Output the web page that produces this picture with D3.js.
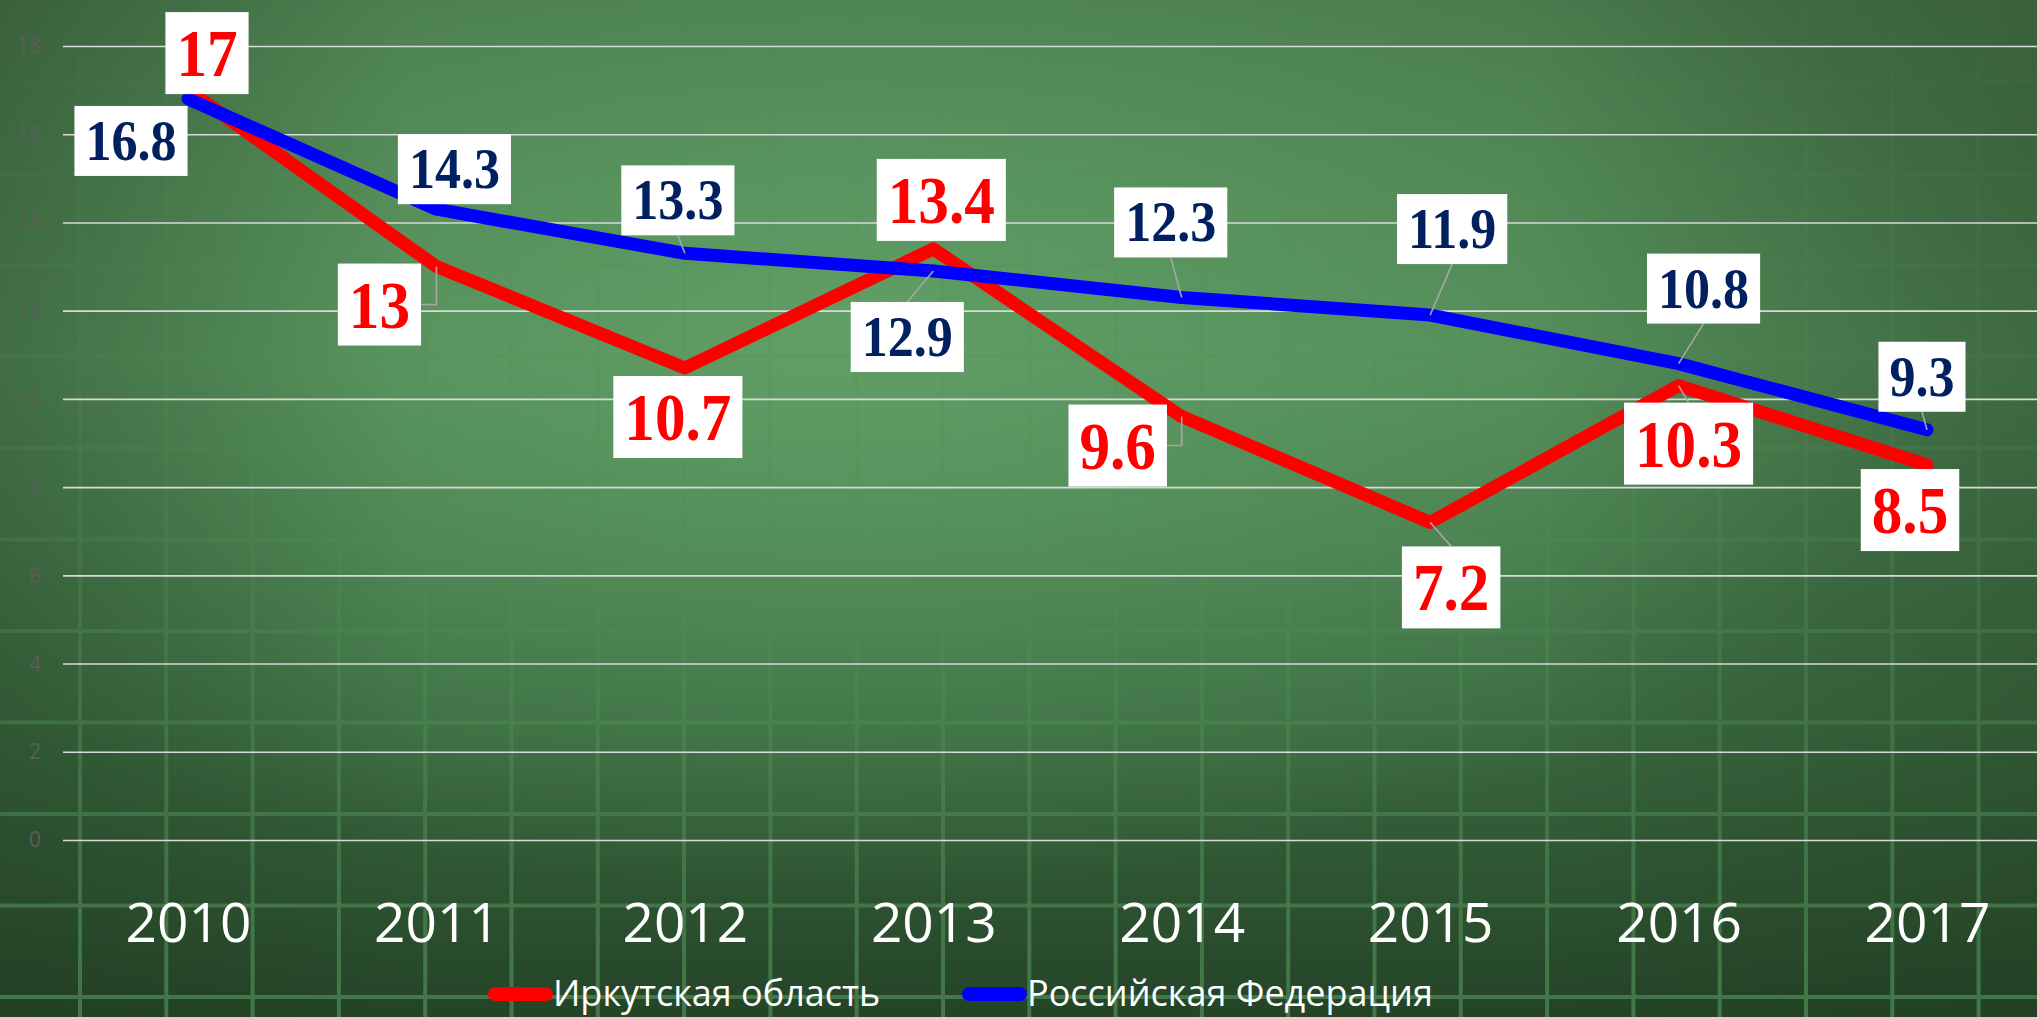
<!DOCTYPE html>
<html>
<head>
<meta charset="utf-8">
<script src="https://cdn.jsdelivr.net/npm/d3@7"></script>
<style>
  html, body { margin: 0; padding: 0; background: #3c6a41; }
  svg { display: block; }
</style>
</head>
<body>
<svg id="svg" width="2037" height="1017"></svg>
<script>
const years = ['2010', '2011', '2012', '2013', '2014', '2015', '2016', '2017'];
const irkutsk = [17, 13, 10.7, 13.4, 9.6, 7.2, 10.3, 8.5];
const russia = [16.8, 14.3, 13.3, 12.9, 12.3, 11.9, 10.8, 9.3];
const yTicks = [0, 2, 4, 6, 8, 10, 12, 14, 16, 18];
const seriesNames = ['Иркутская область', 'Российская Федерация'];

// label offsets from the point (label centre), hand placed like in the original
const irkutskLabelShift = [[19, -37], [-57, 38], [-7, 49], [8, -49], [-64, 29], [21, 65], [10, 58], [-17, 45]];
const russiaLabelShift = [[-57, 42], [18, -40], [-7, -53], [-26, 66], [-11, -75], [22, -86], [25, -75], [-5, -53]];

const width = 2037, height = 1017;
const svg = d3.select('#svg');
const defs = svg.append('defs');

// chalkboard background
const bg = defs.append('linearGradient').attr('id', 'bg').attr('x1', 0).attr('y1', 0).attr('x2', 0).attr('y2', 1);
bg.append('stop').attr('offset', '0%').attr('stop-color', '#467549');
bg.append('stop').attr('offset', '35%').attr('stop-color', '#4f8554');
bg.append('stop').attr('offset', '70%').attr('stop-color', '#3a6a40');
bg.append('stop').attr('offset', '100%').attr('stop-color', '#244327');

const glow = defs.append('radialGradient').attr('id', 'glow')
    .attr('cx', 0.42).attr('cy', 0.33).attr('r', 0.55);
glow.append('stop').attr('offset', '0%').attr('stop-color', '#66a86c').attr('stop-opacity', 0.75);
glow.append('stop').attr('offset', '100%').attr('stop-color', '#66a86c').attr('stop-opacity', 0);

const side = defs.append('linearGradient').attr('id', 'side').attr('x1', 0).attr('y1', 0).attr('x2', 1).attr('y2', 0);
side.append('stop').attr('offset', '0%').attr('stop-color', '#20391f').attr('stop-opacity', 0.35);
side.append('stop').attr('offset', '20%').attr('stop-color', '#20391f').attr('stop-opacity', 0);
side.append('stop').attr('offset', '75%').attr('stop-color', '#20391f').attr('stop-opacity', 0);
side.append('stop').attr('offset', '100%').attr('stop-color', '#20391f').attr('stop-opacity', 0.35);

const fade = defs.append('linearGradient').attr('id', 'fade').attr('x1', 0).attr('y1', 0).attr('x2', 0).attr('y2', 1);
fade.append('stop').attr('offset', '0%').attr('stop-color', '#fff').attr('stop-opacity', 0.05);
fade.append('stop').attr('offset', '45%').attr('stop-color', '#fff').attr('stop-opacity', 0.25);
fade.append('stop').attr('offset', '100%').attr('stop-color', '#fff').attr('stop-opacity', 0.85);
defs.append('mask').attr('id', 'gridMask')
    .append('rect').attr('width', width).attr('height', height).attr('fill', 'url(#fade)');

svg.append('rect').attr('width', width).attr('height', height).attr('fill', 'url(#bg)');
svg.append('rect').attr('width', width).attr('height', height).attr('fill', 'url(#glow)');
svg.append('rect').attr('width', width).attr('height', height).attr('fill', 'url(#side)');

const board = svg.append('g').attr('mask', 'url(#gridMask)')
    .attr('stroke', '#4f8d55').attr('stroke-width', 4).attr('opacity', 0.85);
board.selectAll('.bv').data(d3.range(80, width, 86.3)).enter().append('line')
    .attr('x1', d => d).attr('x2', d => d).attr('y1', 0).attr('y2', height);
board.selectAll('.bh').data(d3.range(997, 0, -91.5)).enter().append('line')
    .attr('x1', 0).attr('x2', width).attr('y1', d => d).attr('y2', d => d);

// scales
const x = d3.scalePoint().domain(years).range([188, 1927]);
const y = d3.scaleLinear().domain([0, 18]).range([840, 46]);

// horizontal gridlines + y axis
const yAxis = svg.append('g').attr('transform', 'translate(63,0)')
    .call(d3.axisLeft(y).tickValues(yTicks).tickSize(-(width - 63)).tickPadding(22));
yAxis.select('.domain').remove();
yAxis.selectAll('.tick line').attr('stroke', '#d9d9d9').attr('stroke-width', 1.6);
yAxis.selectAll('.tick text').attr('fill', '#5c5d5c').attr('font-size', 21)
    .attr('font-family', 'Open Sans, sans-serif');

// x axis labels
const xAxis = svg.append('g').attr('transform', 'translate(0,942)')
    .call(d3.axisBottom(x).tickSize(0).tickPadding(0));
xAxis.select('.domain').remove();
xAxis.selectAll('.tick text').attr('fill', '#ffffff').attr('font-size', 55).attr('dy', 0)
    .attr('font-family', 'Open Sans, sans-serif');

// lines
const line = d3.line().x((d, i) => x(years[i])).y(d => y(d));
svg.append('path').datum(irkutsk).attr('d', line).attr('fill', 'none')
    .attr('stroke', '#ff0000').attr('stroke-width', 13)
    .attr('stroke-linejoin', 'round').attr('stroke-linecap', 'round');
svg.append('path').datum(russia).attr('d', line).attr('fill', 'none')
    .attr('stroke', '#0000ff').attr('stroke-width', 13)
    .attr('stroke-linejoin', 'round').attr('stroke-linecap', 'round');

// data labels
const leaders = svg.append('g');
const labels = svg.append('g');

function drawLabels(values, shifts, color, fontSize, squeeze, boxH) {
  values.forEach((v, i) => {
    const px = x(years[i]), py = y(v);
    const cx = px + shifts[i][0], cy = py + shifts[i][1];
    const g = labels.append('g');
    const rect = g.append('rect').attr('fill', '#ffffff');
    const t = g.append('text').text(String(v))
        .attr('font-family', 'Liberation Serif, Times New Roman, serif')
        .attr('font-weight', 'bold').attr('font-size', fontSize).attr('fill', color)
        .attr('text-anchor', 'middle')
        .attr('transform', `translate(${cx},${cy + fontSize * 0.338}) scale(${squeeze},1)`);
    const w = t.node().getComputedTextLength() * squeeze + 22;
    const L = cx - w / 2, R = cx + w / 2, T = cy - boxH / 2, B = cy + boxH / 2;
    rect.attr('x', L).attr('y', T).attr('width', w).attr('height', boxH);

    // leader line like the spreadsheet: to the nearest edge middle
    let pts = null, gap = 0;
    if (px >= L && px <= R) {
      if (py < T) { gap = T - py; pts = [[px, py], [cx, T]]; }
      else if (py > B) { gap = py - B; pts = [[px, py], [cx, B]]; }
    } else {
      const edge = px > R ? R : L;
      gap = Math.abs(px - edge);
      pts = [[px, py], [px, cy], [edge, cy]];
    }
    if (pts && gap > 12) {
      leaders.append('path').attr('d', d3.line()(pts)).attr('fill', 'none')
          .attr('stroke', '#a6a6a6').attr('stroke-width', 1.6);
    }
  });
}
drawLabels(irkutsk, irkutskLabelShift, '#ff0000', 68, 0.9, 82);
drawLabels(russia, russiaLabelShift, '#002060', 56, 0.93, 70);

// legend
const legendColors = ['#ff0000', '#0000ff'];
const legendX = [488, 962];
const legend = svg.append('g');
seriesNames.forEach((name, i) => {
  legend.append('line').attr('x1', legendX[i] + 7).attr('x2', legendX[i] + 58)
      .attr('y1', 994).attr('y2', 994).attr('stroke', legendColors[i])
      .attr('stroke-width', 14).attr('stroke-linecap', 'round');
  legend.append('text').attr('x', legendX[i] + 65).attr('y', 1006).text(name)
      .attr('fill', '#ffffff').attr('font-size', 36).attr('font-family', 'Open Sans, sans-serif');
});
</script>
</body>
</html>
